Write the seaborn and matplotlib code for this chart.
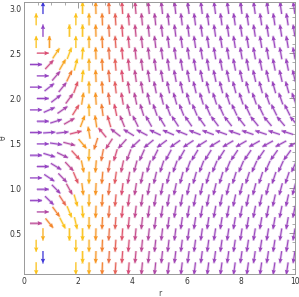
import numpy as np
import matplotlib
matplotlib.use("Agg")
import matplotlib.pyplot as plt
import seaborn as sns
from matplotlib.colors import LinearSegmentedColormap, Normalize

# arrow grid (staggered rows)
theta_rows = 0.105 + 0.1261 * np.arange(24)
r_start_even = 0.45
r_start_odd = 0.70
r_step = 0.4875
n_cols = 20

x_ticks = [0, 2, 4, 6, 8, 10]
y_ticks = [0.5, 1.0, 1.5, 2.0, 2.5, 3.0]
palette = ["#3f38d8", "#9444c4", "#dc4f72", "#f68a26", "#fbc21c"]


def field(r, t):
    """Direction (u, v) on screen and colour value of the plotted field."""
    c, s = np.cos(t), np.sin(t)
    ac = np.abs(c)
    w = 0.02 + 0.3 * ((r - 2.2) / 1.5) ** 2
    g = 1 - np.exp(-ac / w)
    if r > 2.3:
        u = -(1 - 2.3 / r)
        v = -5.2 * c
        col = 0.27 + 0.73 * np.exp(-(r - 2.2) / 1.4) * g
        return u, v, col
    m = 1.0 if s ** 2 >= 0.28 else 0.0
    b_in = 0.9 * np.clip((r - 0.72) / 0.2, 0, 1)
    u = (1 - r / 2.3) * m
    v = -c * (b_in + (1 - m))
    c0 = 0.75 - 0.2 * (r - 0.45)
    t1 = np.clip((ac - c0) / 0.2, 0, 1) * np.clip(0.3 + r / 2, 0, 1)
    t2 = g * np.exp(-(2.25 - r) / 0.35)
    col = 0.25 + 0.75 * np.clip(max(t1, t2), 0, 1)
    if m == 0 and r < 0.6:
        col = 1.0
    elif m == 0 and r < 0.85:
        col = np.clip((0.94 - ac) / 0.06, 0, 1)
    return u, v, col


X, Y, U, V, C = [], [], [], [], []
for j, t in enumerate(theta_rows):
    r0 = r_start_even if j % 2 == 0 else r_start_odd
    for k in range(n_cols):
        r = r0 + k * r_step
        # no arrows where the field is undefined
        if (r - 0.8) * (r - 1.78) + 0.75 * np.sin(t) ** 2 < 0:
            continue
        u, v, col = field(r, t)
        n = np.hypot(u, v)
        X.append(r); Y.append(t); U.append(u / n); V.append(v / n); C.append(col)

sns.set_theme(style="white")
plt.rcParams["font.family"] = ["DejaVu Sans"]

fig = plt.figure(figsize=(2.99, 2.97), dpi=100)
ax = fig.add_axes([24 / 299, 23 / 297, 271 / 299, 272 / 297])
cmap = LinearSegmentedColormap.from_list("vp", palette)
qkw = dict(cmap=cmap, norm=Normalize(0, 1), pivot="middle", angles="uv",
           scale_units="inches", scale=1 / 0.125, units="dots")
# faint wide shaft under each arrow, then the arrow itself
ax.quiver(X, Y, U, V, C, alpha=0.3, width=2.6, headwidth=1, headlength=0,
          headaxislength=0, **qkw)
ax.quiver(X, Y, U, V, C, width=1.0, headwidth=4.4, headlength=4.8,
          headaxislength=4.3, **qkw)

ax.set_xlim(0, 10)
ax.set_ylim(0.045, 3.07)
ax.set_xticks(x_ticks)
ax.set_yticks(y_ticks)
ax.set_xticks(np.arange(0, 10.01, 0.5), minor=True)
ax.set_yticks(np.arange(0.1, 3.05, 0.1), minor=True)
ax.set_yticklabels([f"{y:.1f}" for y in y_ticks])
ax.tick_params(which="both", direction="in", top=True, right=True,
               colors="#888888", labelcolor="#333333", labelsize=5.5, pad=2)
ax.tick_params(which="major", length=4, width=0.6)
ax.tick_params(which="minor", length=2, width=0.5)
for sp in ax.spines.values():
    sp.set_color("#999999")
    sp.set_linewidth(0.7)
ax.set_xlabel("r", fontsize=5.5, color="#444444", labelpad=2)
ax.set_ylabel("θ", fontsize=5.5, color="#444444", labelpad=1)

fig.savefig("out.png", dpi=100)
